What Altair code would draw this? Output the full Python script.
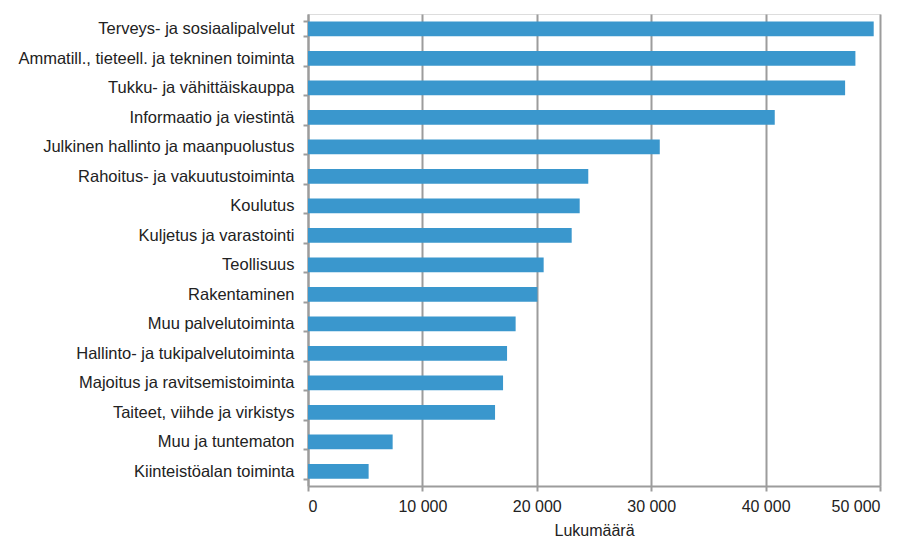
import altair as alt
import pandas as pd

categories = [
    "Terveys- ja sosiaalipalvelut",
    "Ammatill., tieteell. ja tekninen toiminta",
    "Tukku- ja vähittäiskauppa",
    "Informaatio ja viestintä",
    "Julkinen hallinto ja maanpuolustus",
    "Rahoitus- ja vakuutustoiminta",
    "Koulutus",
    "Kuljetus ja varastointi",
    "Teollisuus",
    "Rakentaminen",
    "Muu palvelutoiminta",
    "Hallinto- ja tukipalvelutoiminta",
    "Majoitus ja ravitsemistoiminta",
    "Taiteet, viihde ja virkistys",
    "Muu ja tuntematon",
    "Kiinteistöalan toiminta",
]
values = [49450, 47850, 46950, 40800, 30750, 24500, 23750, 23050,
          20600, 20050, 18150, 17400, 17050, 16350, 7400, 5300]
x_ticks = [0, 10000, 20000, 30000, 40000, 50000]

df = pd.DataFrame({"Toimiala": categories, "Lukumäärä": values})

FONT = "Liberation Sans"
GRAY = "#9c9c9c"
TEXT = "#222222"

chart = alt.Chart(df).mark_bar(color="#3a97cd").encode(
    x=alt.X(
        "Lukumäärä:Q",
        scale=alt.Scale(domain=[0, 50000], nice=False),
        axis=alt.Axis(
            values=x_ticks,
            labelExpr="replace(format(datum.value, ','), ',', ' ')",
            title="Lukumäärä",
            grid=True,
            gridColor=GRAY,
            gridWidth=2,
            domainColor=GRAY,
            domainWidth=2,
            tickColor=GRAY,
            tickWidth=2,
            tickSize=5,
            labelFont=FONT,
            labelFontSize=16,
            labelColor=TEXT,
            labelPadding=7,
            titleFont=FONT,
            titleFontSize=16,
            titleFontWeight="normal",
            titleColor=TEXT,
            titlePadding=8,
        ),
    ),
    y=alt.Y(
        "Toimiala:N",
        sort=categories,
        scale=alt.Scale(paddingInner=0.5, paddingOuter=0.25),
        axis=alt.Axis(
            title=None,
            tickBand="extent",
            domainColor=GRAY,
            domainWidth=2,
            tickColor=GRAY,
            tickWidth=2,
            tickSize=5,
            labelFont=FONT,
            labelFontSize=16.5,
            labelColor=TEXT,
            labelPadding=9,
            labelLimit=400,
        ),
    ),
).properties(
    width=572,
    height=472,
    autosize=alt.AutoSizeParams(type="none"),
    padding={"left": 300, "top": 6, "right": 24, "bottom": 54},
).configure_view(
    stroke=None
).configure(
    background="white"
)

chart.save("out.html", embed_options={"renderer": "svg", "actions": False})
